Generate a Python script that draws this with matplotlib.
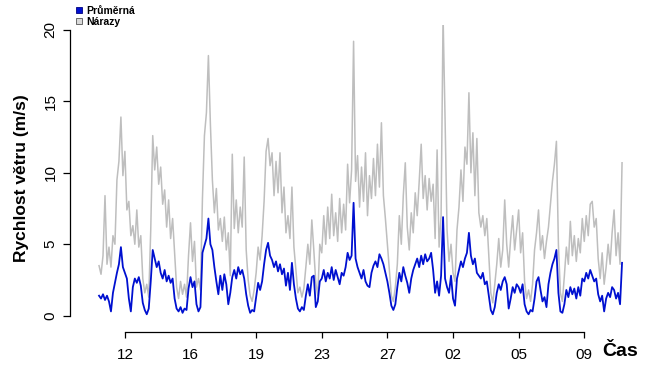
import numpy as np
import matplotlib

matplotlib.use("Agg")
import matplotlib.pyplot as plt
from matplotlib.lines import Line2D

plt.rcParams["font.family"] = ["Liberation Sans", "DejaVu Sans"]

# wind gusts (Nárazy), m/s
gust = [
    3.5, 2.9, 4.2, 8.4, 3.6, 4.8, 3.4, 5.6, 5.0, 9.5, 10.8, 13.9, 9.8,
    11.5, 7.4, 8.0, 5.6, 6.3, 5.0, 7.4, 4.8, 5.6, 2.6, 1.6, 2.2, 1.3, 6.0, 12.6, 10.2,
    11.8, 9.2, 10.4, 7.8, 8.8, 6.2, 8.1, 5.4, 6.8, 4.4, 2.0, 1.2, 2.4, 1.5, 2.2, 1.3, 4.2,
    6.5, 3.8, 5.2, 2.0, 2.6, 1.8, 8.2, 12.6, 14.2, 18.2, 13.4, 9.5, 7.2, 8.9, 6.0, 6.8,
    5.2, 6.9, 4.6, 5.8, 2.8, 11.3, 6.1, 8.1, 5.8, 7.6, 6.2, 11.1, 4.6, 2.5, 1.4, 1.0, 1.8,
    3.0, 4.8, 3.9, 5.6, 8.0, 11.5, 12.4, 10.5, 11.4, 8.4, 10.8, 8.6, 11.4, 7.2, 9.0, 5.8,
    7.0, 5.4, 9.0, 4.8, 3.2, 1.6, 2.0, 1.3, 1.9, 3.4, 5.0, 3.6, 6.7, 4.6, 2.3, 1.4, 5.0,
    4.4, 7.0, 5.0, 7.6, 5.4, 8.5, 5.6, 7.2, 5.2, 8.2, 5.8, 7.8, 6.0, 10.6, 7.9, 10.2,
    19.2, 9.4, 11.2, 7.6, 10.4, 8.0, 11.4, 7.0, 9.8, 8.2, 11.0, 8.4, 12.0, 9.0, 13.5, 8.4, 6.8,
    5.0, 3.2, 1.4, 1.0, 2.0, 3.6, 7.0, 5.0, 8.4, 10.7, 6.2, 4.6, 7.2, 5.8, 8.6, 7.0, 9.4,
    12.0, 8.2, 9.8, 7.4, 9.6, 8.0, 9.2, 5.4, 11.6, 4.8, 7.0, 21.0, 13.8, 6.0, 3.8, 5.0,
    3.0, 2.4, 6.0, 7.6, 10.2, 8.0, 11.8, 10.6, 15.6, 10.0, 12.8, 8.4, 12.4, 7.2, 6.2, 7.0,
    5.6, 6.8, 4.2, 1.6, 0.9, 2.2, 3.6, 5.4, 3.4, 4.6, 8.1, 5.0, 3.4, 5.4, 7.0, 4.6, 6.0,
    7.4, 4.4, 5.8, 2.4, 1.2, 1.8, 1.0, 2.2, 4.6, 5.8, 7.4, 4.6, 5.6, 4.0, 5.2, 6.2, 7.8,
    9.4, 10.6, 12.2, 5.0, 1.6, 1.0, 2.8, 4.8, 3.6, 6.6, 4.2, 5.6, 3.8, 5.4, 4.4, 6.8,
    5.2, 7.0, 5.6, 7.8, 8.0, 6.2, 6.8, 4.0, 2.6, 4.4, 2.2, 3.4, 5.0, 3.6, 5.8, 7.4, 4.2,
    5.8, 3.6, 10.7,
]

# average wind speed (Průměrná), m/s
mean = [
    1.4, 1.2, 1.5, 1.1, 1.4, 1.0, 0.3, 1.6, 2.3, 3.0, 3.6, 4.8, 3.4,
    3.0, 2.6, 1.2, 0.3, 2.0, 2.6, 2.3, 2.7, 2.1, 0.9, 0.4, 0.1, 0.5, 2.4, 4.6, 4.0,
    3.4, 3.8, 3.0, 2.6, 3.2, 2.4, 2.8, 2.3, 2.6, 1.2, 0.5, 0.3, 0.6, 0.2, 0.5, 0.4, 1.9,
    2.7, 2.0, 2.4, 0.8, 0.3, 0.6, 4.4, 4.9, 5.4, 6.8, 5.0, 4.6, 3.4, 2.4, 1.5, 2.8,
    1.8, 2.9, 2.2, 0.8, 1.6, 2.7, 3.2, 2.6, 3.4, 2.9, 3.2, 2.6, 1.5, 0.7, 0.2, 0.4, 0.3,
    1.3, 2.3, 1.8, 2.4, 3.6, 4.6, 5.1, 4.2, 3.9, 3.4, 3.8, 3.1, 3.6, 2.9, 3.3, 2.1,
    3.0, 1.8, 3.7, 2.2, 1.2, 0.5, 0.3, 0.6, 0.4, 1.4, 2.2, 1.4, 2.7, 2.8, 0.6, 1.0, 2.4,
    2.6, 3.2, 2.4, 3.0, 2.6, 3.4, 2.5, 3.2, 2.7, 2.2, 3.0, 2.8, 3.4, 4.4, 3.9, 4.2,
    7.9, 4.0, 3.4, 3.0, 2.6, 3.2, 2.4, 2.1, 2.0, 3.0, 3.5, 3.8, 3.4, 4.3, 4.0, 3.6, 3.0,
    2.4, 1.6, 0.7, 0.4, 0.8, 2.0, 3.0, 2.4, 3.4, 2.8, 2.3, 1.6, 2.6, 3.2, 3.6, 4.0, 3.4,
    4.2, 3.6, 4.3, 3.8, 4.0, 4.4, 3.2, 1.6, 2.4, 1.4, 2.8, 6.9, 2.6, 2.0, 1.6, 2.8,
    1.2, 0.7, 2.6, 3.2, 3.8, 3.4, 4.0, 4.4, 5.8, 4.2, 3.6, 4.0, 3.0, 2.8, 2.6, 3.0,
    2.2, 2.4, 1.4, 0.4, 0.1, 0.6, 1.6, 2.2, 1.8, 2.4, 2.7, 2.2, 0.5, 1.2, 2.0, 1.6, 2.2,
    2.0, 1.6, 2.2, 0.8, 0.3, 0.1, 0.4, 0.3, 1.2, 2.4, 2.7, 1.8, 1.0, 1.3, 0.6, 2.2, 3.0,
    3.6, 4.0, 4.6, 1.6, 0.3, 0.2, 0.8, 1.8, 1.3, 2.0, 1.5, 1.9, 1.2, 2.0, 1.4, 2.6,
    2.4, 3.0, 2.6, 3.2, 2.8, 2.4, 2.6, 1.5, 1.0, 1.4, 0.3, 1.2, 1.6, 1.3, 2.0, 1.8, 1.2,
    1.6, 0.8, 3.7,
]

tick_pos = [13, 46, 79, 112, 145, 178, 211, 244]
tick_labels = ["12", "16", "19", "23", "27", "02", "05", "09"]

BLUE = "#0010d0"
GREY = "#bebebe"

fig = plt.figure(figsize=(6.5, 3.69), dpi=100)
ax = fig.add_axes([70 / 650, 37 / 369, 560 / 650, 307 / 369])

t = np.arange(len(gust))
ax.plot(t, gust, color=GREY, lw=1.1)
ax.plot(t, mean, color=BLUE, lw=1.3)

ax.set_xlim(-14.6, 267)
ax.set_ylim(-1.14, 20.34)

for side in ("top", "right"):
    ax.spines[side].set_visible(False)
ax.spines["left"].set_bounds(0, 20)
ax.spines["bottom"].set_bounds(tick_pos[0], tick_pos[-1])
for side in ("left", "bottom"):
    ax.spines[side].set_linewidth(0.9)

ax.set_xticks(tick_pos, tick_labels)
ax.set_yticks([0, 5, 10, 15, 20])
ax.tick_params(axis="x", direction="out", length=4.5, width=0.9, labelsize=11, pad=7)
ax.tick_params(axis="y", direction="out", length=5, width=0.9, labelsize=11, pad=4)
for lab in ax.get_yticklabels():
    lab.set_rotation(90)
    lab.set_va("center")

fig.text(22 / 650, 1 - 178 / 369, "Rychlost větru (m/s)", rotation=90,
         ha="center", va="center", fontsize=12.5, fontweight="bold")
fig.text(620 / 650, 1 - 352 / 369, "Čas", ha="center", va="center",
         fontsize=14, fontweight="bold")

handles = [
    Line2D([], [], marker="s", ls="none", markersize=4.2, markerfacecolor=BLUE,
           markeredgecolor="#000080", markeredgewidth=0.6),
    Line2D([], [], marker="s", ls="none", markersize=4.2, markerfacecolor="#d9d9d9",
           markeredgecolor="#555555", markeredgewidth=0.6),
]
fig.legend(handles, ["Průměrná", "Nárazy"], loc="upper left",
           bbox_to_anchor=(74 / 650, 1 - 5 / 369), frameon=False,
           prop={"weight": "bold", "size": 7.5}, handlelength=0.7,
           handletextpad=0.4, labelspacing=0.05, borderpad=0.1, borderaxespad=0)

fig.savefig("out.png", dpi=100)
